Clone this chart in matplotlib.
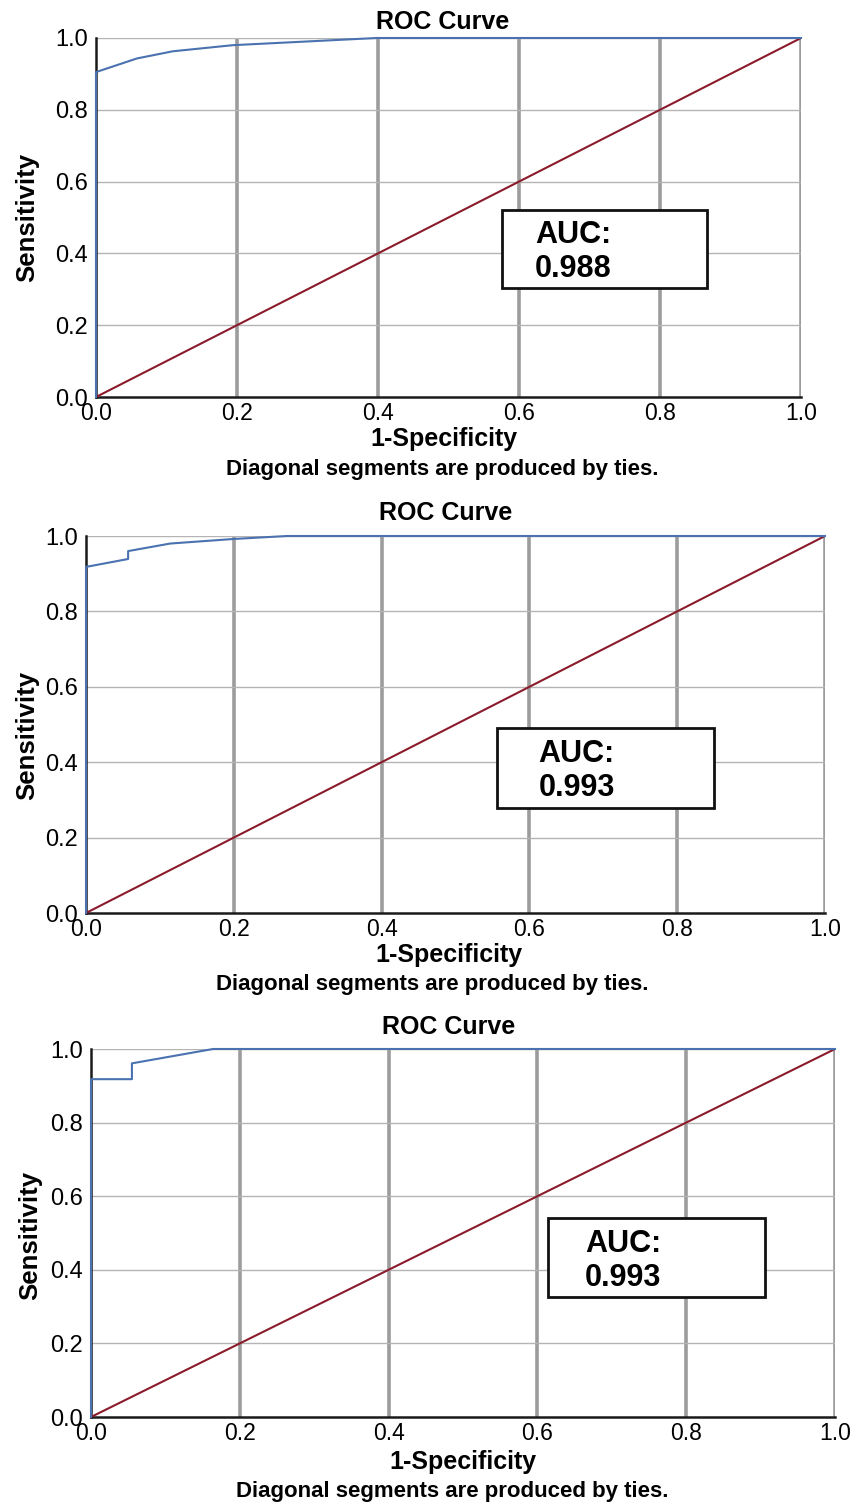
import matplotlib
matplotlib.use("Agg")
import matplotlib.pyplot as plt

plt.rcParams["font.family"] = ["Liberation Sans", "DejaVu Sans"]

W, H = 857, 1502

# ROC points (1-specificity, sensitivity)
fpr_1 = [0.0, 0.0, 0.058, 0.109, 0.194, 0.398, 1.0]
tpr_1 = [0.0, 0.905, 0.943, 0.963, 0.980, 1.0, 1.0]

fpr_2 = [0.0, 0.0, 0.057, 0.057, 0.114, 0.199, 0.272, 1.0]
tpr_2 = [0.0, 0.918, 0.939, 0.960, 0.980, 0.992, 1.0, 1.0]

fpr_3 = [0.0, 0.0, 0.055, 0.055, 0.164, 1.0]
tpr_3 = [0.0, 0.918, 0.918, 0.961, 1.0, 1.0]

auc_labels = ["0.988", "0.993", "0.993"]
ticks = [0.0, 0.2, 0.4, 0.6, 0.8, 1.0]
tick_labels = ["0.0", "0.2", "0.4", "0.6", "0.8", "1.0"]

# axes box in pixels (left, top, right, bottom), AUC box in data coords,
# text anchors in pixels: title / xlabel / note as (x, baseline), ylabel centre
panels = [
    dict(px=(96, 38, 801, 397), fpr=fpr_1, tpr=tpr_1,
         box=(0.576, 0.304, 0.867, 0.520), text_x=0.623,
         title=(443, 29), xlab=(444, 446), note=(442, 475), ylab=(27, 217)),
    dict(px=(86, 536, 825, 913), fpr=fpr_2, tpr=tpr_2,
         box=(0.556, 0.279, 0.850, 0.491), text_x=0.612,
         title=(446, 520), xlab=(449, 962), note=(432, 990), ylab=(27, 735)),
    dict(px=(91, 1049, 835, 1417), fpr=fpr_3, tpr=tpr_3,
         box=(0.614, 0.326, 0.906, 0.541), text_x=0.664,
         title=(449, 1034), xlab=(463, 1469), note=(452, 1497), ylab=(30, 1235)),
]


def fx(x):
    return x / W


def fy(y):
    return 1 - y / H


fig = plt.figure(figsize=(W / 100, H / 100), dpi=100)

for p, auc in zip(panels, auc_labels):
    l, t, r, b = p["px"]
    ax = fig.add_axes([fx(l), fy(b), (r - l) / W, (b - t) / H])
    ax.set_xlim(0, 1)
    ax.set_ylim(0, 1)
    for x in ticks[1:]:
        ax.axvline(x, color="#9c9c9c", lw=2.6, zorder=1)
    for y in ticks[1:]:
        ax.axhline(y, color="#b4b4b4", lw=1.0, zorder=1)

    ax.plot([0, 1], [0, 1], color="#8b1a2b", lw=1.5, zorder=3)
    ax.plot(p["fpr"], p["tpr"], color="#4a72b0", lw=1.5, zorder=4,
            clip_on=False)

    for side in ["top", "right"]:
        ax.spines[side].set_visible(False)
    for side in ["left", "bottom"]:
        ax.spines[side].set_color("#1a1a1a")
        ax.spines[side].set_linewidth(1.8)

    ax.set_xticks(ticks)
    ax.set_yticks(ticks)
    ax.set_xticklabels(tick_labels, fontsize=16.5)
    ax.set_yticklabels(tick_labels, fontsize=17)
    ax.tick_params(length=0)
    ax.tick_params(axis="x", pad=3.5)
    ax.tick_params(axis="y", pad=6)

    x0, y0, x1, y1 = p["box"]
    rect = plt.Rectangle((x0, y0), x1 - x0, y1 - y0, facecolor="white",
                         edgecolor="#111111", lw=2, zorder=5)
    ax.add_patch(rect)
    ax.text(p["text_x"], (y0 + y1) / 2 - 0.009, "AUC:\n" + auc, fontsize=22,
            fontweight="bold", ha="left", va="center", linespacing=1.18,
            zorder=6)

    fig.text(fx(p["title"][0]), fy(p["title"][1]), "ROC Curve",
             fontsize=18, fontweight="bold", ha="center", va="baseline")
    fig.text(fx(p["xlab"][0]), fy(p["xlab"][1]), "1-Specificity",
             fontsize=18, fontweight="bold", ha="center", va="baseline")
    fig.text(fx(p["note"][0]), fy(p["note"][1]),
             "Diagonal segments are produced by ties.",
             fontsize=16, fontweight="bold", ha="center", va="baseline")
    fig.text(fx(p["ylab"][0]), fy(p["ylab"][1]), "Sensitivity",
             fontsize=18.5, fontweight="bold", ha="center", va="center",
             rotation=90)

fig.savefig("out.png", dpi=100)
